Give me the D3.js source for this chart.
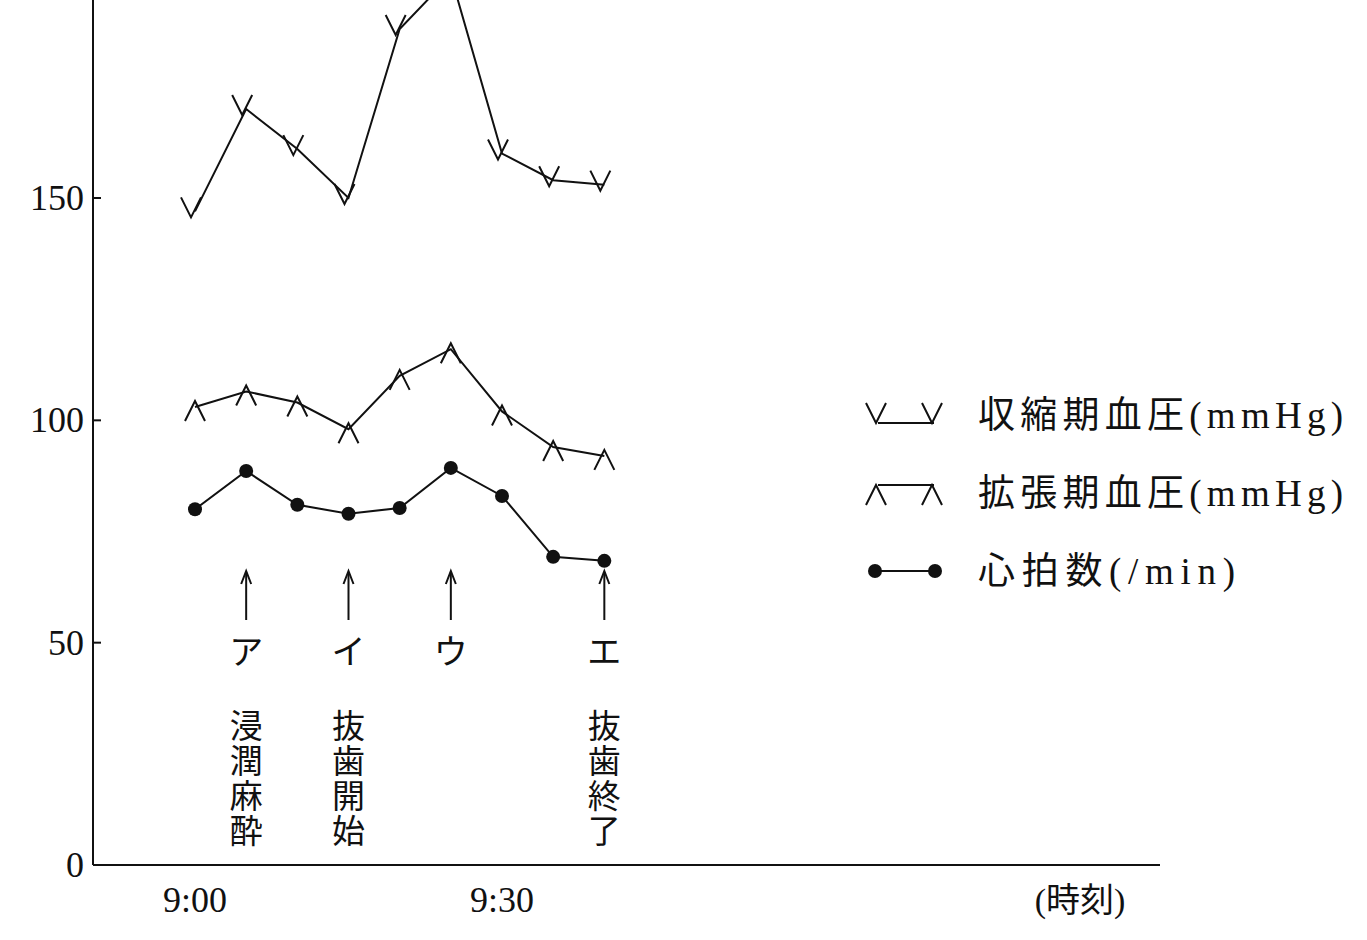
<!DOCTYPE html>
<html><head><meta charset="utf-8">
<script src="https://cdn.jsdelivr.net/npm/d3@7"></script>
<style>body{margin:0;background:#fff}text{font-family:"Liberation Serif","Noto Sans CJK JP",serif;fill:#111}</style>
</head><body>
<svg id="c" width="1367" height="940"></svg>
<script>
// minutes after 9:00
var times = [0, 5, 10, 15, 20, 25, 30, 35, 40];
var systolic = [147, 170, 161, 150, 188, 200, 160, 154, 153];
var diastolic = [103, 106.5, 104, 98, 110, 116, 102, 94, 92];
var pulse = [80, 88.6, 81, 79, 80.3, 89.3, 83, 69.3, 68.4];
var yTicks = [0, 50, 100, 150];
var xTicks = [0, 30];
var xTickLabels = ["9:00", "9:30"];
var events = [
  {t: 5, mark: "ア", label: "浸潤麻酔"},
  {t: 15, mark: "イ", label: "抜歯開始"},
  {t: 25, mark: "ウ", label: ""},
  {t: 40, mark: "エ", label: "抜歯終了"}
];
var legendNames = ["収縮期血圧(mmHg)", "拡張期血圧(mmHg)", "心拍数(/min)"];

var svg = d3.select("#c");
var x = d3.scaleLinear().domain([0, 30]).range([195, 502]);
var y = d3.scaleLinear().domain([0, 150]).range([865, 198]);

// axes
svg.append("line").attr("x1", 93).attr("x2", 93).attr("y1", 0).attr("y2", 865).attr("stroke", "#111").attr("stroke-width", 2);
svg.append("line").attr("x1", 93).attr("x2", 1160).attr("y1", 865).attr("y2", 865).attr("stroke", "#111").attr("stroke-width", 2);
yTicks.forEach(function(v) {
  if (v > 0) svg.append("line").attr("x1", 93).attr("x2", 101).attr("y1", y(v)).attr("y2", y(v)).attr("stroke", "#111").attr("stroke-width", 2);
  svg.append("text").attr("x", 84).attr("y", y(v) + 12).attr("text-anchor", "end").attr("font-size", 36).text(v);
});
xTicks.forEach(function(v, i) {
  svg.append("text").attr("x", x(v)).attr("y", 912).attr("text-anchor", "middle").attr("font-size", 36).text(xTickLabels[i]);
});
svg.append("text").attr("x", 1080).attr("y", 912).attr("text-anchor", "middle").attr("font-size", 34).text("(時刻)");

var line = d3.line().x(function(d, i) { return x(times[i]); }).y(function(d) { return y(d); });
function drawLine(data) {
  svg.append("path").attr("d", line(data)).attr("fill", "none").attr("stroke", "#111").attr("stroke-width", 2);
}
function vMark(g, cx, cy) {
  g.append("path").attr("d", "M" + (cx - 10) + "," + (cy - 20) + "L" + cx + "," + cy + "L" + (cx + 10) + "," + (cy - 20))
    .attr("fill", "none").attr("stroke", "#111").attr("stroke-width", 2);
}
function aMark(g, cx, cy) {
  g.append("path").attr("d", "M" + (cx - 10) + "," + (cy + 20) + "L" + cx + "," + cy + "L" + (cx + 10) + "," + (cy + 20))
    .attr("fill", "none").attr("stroke", "#111").attr("stroke-width", 2);
}
function dot(g, cx, cy) {
  g.append("circle").attr("cx", cx).attr("cy", cy).attr("r", 7).attr("fill", "#111");
}

drawLine(systolic);
systolic.forEach(function(d, i) { vMark(svg, x(times[i]) - 4, y(d) + 6); });
drawLine(diastolic);
diastolic.forEach(function(d, i) { aMark(svg, x(times[i]), y(d) - 6); });
drawLine(pulse);
pulse.forEach(function(d, i) { dot(svg, x(times[i]), y(d)); });

// event arrows
events.forEach(function(e) {
  var cx = x(e.t);
  svg.append("line").attr("x1", cx).attr("x2", cx).attr("y1", 620).attr("y2", 572).attr("stroke", "#111").attr("stroke-width", 2);
  svg.append("path").attr("d", "M" + (cx - 5) + "," + 584 + "L" + cx + "," + 571 + "L" + (cx + 5) + "," + 584).attr("fill", "none").attr("stroke", "#111").attr("stroke-width", 2);
  svg.append("text").attr("x", cx).attr("y", 664).attr("text-anchor", "middle").attr("font-size", 34).text(e.mark);
  e.label.split("").forEach(function(ch, j) {
    svg.append("text").attr("x", cx).attr("y", 738 + j * 35).attr("text-anchor", "middle").attr("font-size", 33).text(ch);
  });
});

// legend
var ly = [415, 493, 571];
var lw = [365, 365, 257];
legendNames.forEach(function(n, i) {
  var g = svg.append("g");
  if (i === 0) {
    g.append("line").attr("x1", 878).attr("x2", 934).attr("y1", ly[i] + 8).attr("y2", ly[i] + 8).attr("stroke", "#111").attr("stroke-width", 2);
    vMark(g, 876, ly[i] + 8); vMark(g, 932, ly[i] + 8);
  } else if (i === 1) {
    g.append("line").attr("x1", 878).attr("x2", 934).attr("y1", ly[i] - 8).attr("y2", ly[i] - 8).attr("stroke", "#111").attr("stroke-width", 2);
    aMark(g, 876, ly[i] - 8); aMark(g, 932, ly[i] - 8);
  } else {
    g.append("line").attr("x1", 875).attr("x2", 935).attr("y1", ly[i]).attr("y2", ly[i]).attr("stroke", "#111").attr("stroke-width", 2);
    dot(g, 875, ly[i]); dot(g, 935, ly[i]);
  }
  svg.append("text").attr("x", 978).attr("y", ly[i] + 13).attr("font-size", 37).attr("textLength", lw[i]).text(n);
});
</script>
</body></html>
